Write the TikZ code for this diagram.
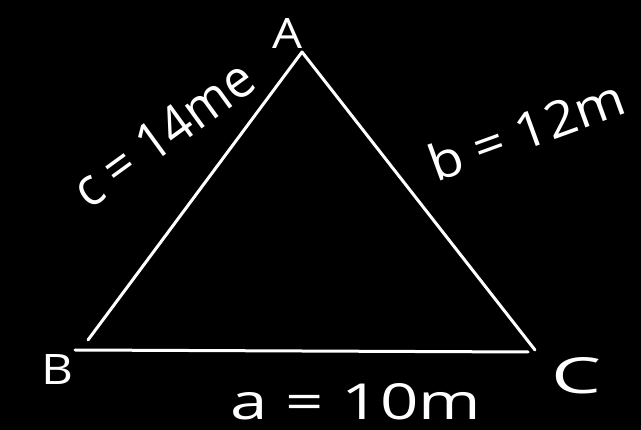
\documentclass[tikz,border=0pt]{standalone}
\usepackage{fontspec}
\setmainfont{Open Sans}
\begin{document}
\begin{tikzpicture}[x=1pt,y=-1pt,
  edge/.style={draw=white,line width=3pt,line cap=round,line join=round},
  lbl/.style={text=white,inner sep=0pt,font=\fontsize{40}{44}\selectfont}]
\fill[black] (0,0) rectangle (641,430);
\useasboundingbox (0,0) rectangle (641,430);
\coordinate (vA) at (302,52);
\coordinate (vB) at (88,340);
\coordinate (vC) at (535,350);
\coordinate (bL) at (75,350);
\coordinate (bR) at (528,352);
\draw[edge] (vB) -- (vA) -- (vC);
\draw[edge] (bL) -- (bR);
\node[lbl] (A) at (287,34) {\resizebox{30pt}{30pt}{A}};
\node[lbl] (B) at (57,370) {\resizebox{32pt}{30pt}{B}};
\node[lbl] (C) at (576,376) {\resizebox{50pt}{36pt}{C}};
\node[lbl] (la) at (356,402) {\resizebox{250pt}{36pt}{a = 10m}};
\node[lbl,rotate=20] (lb) at (526,130) {\resizebox{205pt}{38pt}{b = 12m}};
\node[lbl,rotate=36] (lc) at (163,134) {\resizebox{210pt}{38pt}{c = 14me}};
\end{tikzpicture}
\end{document}
